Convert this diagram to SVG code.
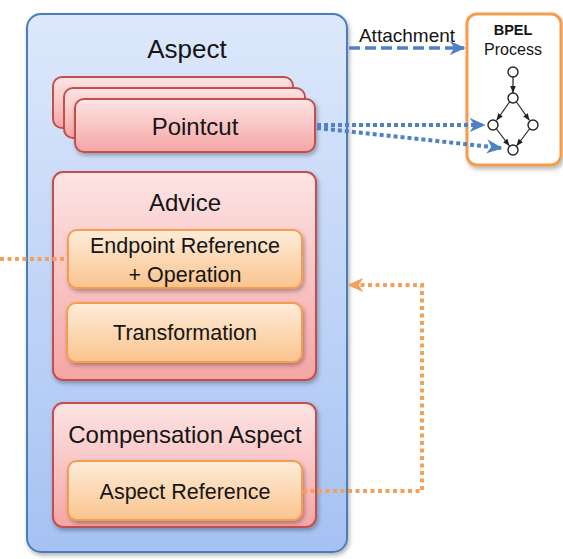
<svg xmlns="http://www.w3.org/2000/svg" width="563" height="559" viewBox="0 0 563 559">
<defs>
<linearGradient id="gBlue" x1="0" y1="0" x2="0" y2="1"><stop offset="0" stop-color="#dde8fb"/><stop offset="1" stop-color="#a6c2f3"/></linearGradient>
<linearGradient id="gPink" x1="0" y1="0" x2="0" y2="1"><stop offset="0" stop-color="#fde4e4"/><stop offset="1" stop-color="#f6a5a5"/></linearGradient>
<linearGradient id="gOrange" x1="0" y1="0" x2="0" y2="1"><stop offset="0" stop-color="#feecd9"/><stop offset="1" stop-color="#fac48e"/></linearGradient>
<filter id="sh" x="-10%" y="-10%" width="130%" height="130%"><feDropShadow dx="1.5" dy="2.5" stdDeviation="2" flood-color="#000" flood-opacity="0.3"/></filter>
<marker id="arrBlue" viewBox="0 0 10 10" refX="9" refY="5" markerWidth="16" markerHeight="16" orient="auto" markerUnits="userSpaceOnUse"><path d="M0,0.5 L10,5 L0,9.5 L3,5 Z" fill="#4f81c4"/></marker>
<marker id="arrOrange" viewBox="0 0 10 10" refX="9" refY="5" markerWidth="16" markerHeight="16" orient="auto" markerUnits="userSpaceOnUse"><path d="M0,0.5 L10,5 L0,9.5 L3,5 Z" fill="#f5a05a"/></marker>
<marker id="arrBlack" viewBox="0 0 10 10" refX="10" refY="5" markerWidth="7" markerHeight="7" orient="auto" markerUnits="userSpaceOnUse"><path d="M0,1 L10,5 L0,9 Z" fill="#222"/></marker>
<style>
text{font-family:"Liberation Sans",Arial,sans-serif;fill:#151515;text-anchor:middle}
.blue{fill:url(#gBlue);stroke:#4a7ebb;stroke-width:2}
.pink{fill:url(#gPink);stroke:#c0504d;stroke-width:2}
.orange{fill:url(#gOrange);stroke:#f59d4f;stroke-width:2}
.dotO{fill:none;stroke:#f5a05a;stroke-width:4;stroke-dasharray:4 3.5}
.dotB{fill:none;stroke:#4f81c4;stroke-width:4;stroke-dasharray:4 3}
.dashB{fill:none;stroke:#4f81c4;stroke-width:3.5;stroke-dasharray:11 5}
.gn{fill:#fff;stroke:#222;stroke-width:1.4}
.ge{stroke:#222;stroke-width:1.2}
</style>
</defs>

<g id="aspect">
<rect class="blue" x="27" y="14" width="320" height="538" rx="14" filter="url(#sh)"/>
<text x="187" y="58" font-size="26">Aspect</text>
</g>

<g id="pointcut">
<rect class="pink" x="53" y="77" width="240" height="51" rx="9"/>
<rect class="pink" x="64" y="88" width="241" height="50" rx="9"/>
<rect class="pink" x="75" y="99" width="240" height="53" rx="9" filter="url(#sh)"/>
<text x="195" y="135" font-size="24">Pointcut</text>
</g>

<g id="advice">
<rect class="pink" x="53" y="172" width="263" height="208" rx="10" filter="url(#sh)"/>
<text x="185" y="211" font-size="24">Advice</text>
</g>

<g id="endpoint">
<rect class="orange" x="68" y="230" width="234" height="58" rx="9" filter="url(#sh)"/>
<text x="185" y="253" font-size="21.5">Endpoint Reference</text>
<text x="185" y="282" font-size="21.5">+ Operation</text>
</g>

<g id="transformation">
<rect class="orange" x="67" y="303" width="235" height="59" rx="9" filter="url(#sh)"/>
<text x="185" y="340" font-size="21.5">Transformation</text>
</g>

<g id="compensation">
<rect class="pink" x="53" y="403" width="263" height="124" rx="10" filter="url(#sh)"/>
<text x="185" y="443" font-size="24">Compensation Aspect</text>
</g>

<g id="aspectref">
<rect class="orange" x="68" y="461" width="234" height="59" rx="9" filter="url(#sh)"/>
<text x="185" y="499" font-size="21.5">Aspect Reference</text>
</g>

<g id="bpel">
<rect x="467" y="14" width="94" height="151" rx="10" fill="#fff" stroke="#f59d4f" stroke-width="3" filter="url(#sh)"/>
<text x="513" y="35" font-size="14.5" font-weight="bold">BPEL</text>
<text x="513" y="55" font-size="16">Process</text>
<line class="ge" x1="513" y1="77" x2="513" y2="93" marker-end="url(#arrBlack)"/>
<line class="ge" x1="509.5" y1="102" x2="496.5" y2="120.5" marker-end="url(#arrBlack)"/>
<line class="ge" x1="516.5" y1="102" x2="529.5" y2="120.5" marker-end="url(#arrBlack)"/>
<line class="ge" x1="496.5" y1="129" x2="509.5" y2="146" marker-end="url(#arrBlack)"/>
<line class="ge" x1="529.5" y1="129" x2="516.5" y2="146" marker-end="url(#arrBlack)"/>
<circle class="gn" cx="513" cy="72" r="5"/>
<circle class="gn" cx="513" cy="98" r="5"/>
<circle class="gn" cx="493" cy="125" r="5"/>
<circle class="gn" cx="533" cy="125" r="5"/>
<circle class="gn" cx="513" cy="150" r="5"/>
</g>

<g id="connectors">
<line class="dashB" x1="349" y1="48" x2="464" y2="48" marker-end="url(#arrBlue)"/>
<text x="407" y="42" font-size="19">Attachment</text>
<line class="dotB" x1="317" y1="125" x2="484" y2="125" marker-end="url(#arrBlue)"/>
<line class="dotB" x1="317" y1="128" x2="501" y2="148" marker-end="url(#arrBlue)"/>
<line class="dotO" x1="0" y1="259" x2="68" y2="259"/>
<polyline class="dotO" points="303,491 422,491 422,285 349,285" marker-end="url(#arrOrange)"/>
</g>
</svg>
